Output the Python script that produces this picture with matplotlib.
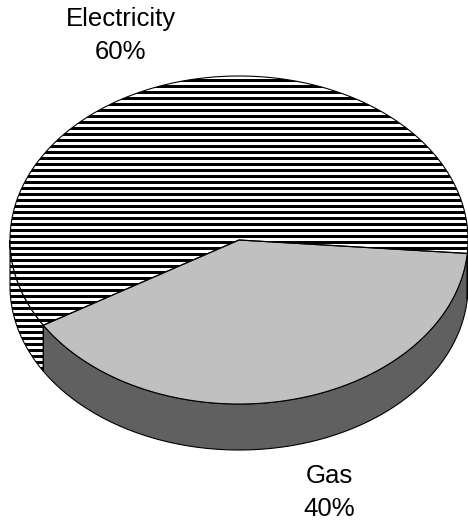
import numpy as np
import matplotlib
matplotlib.use("Agg")
import matplotlib.pyplot as plt
from matplotlib.patches import Polygon

# energy split
labels = ["Gas", "Electricity"]
values = [40, 60]

plt.rcParams['font.family'] = ['Liberation Sans', 'DejaVu Sans']

W, H = 468, 521
fig = plt.figure(figsize=(W / 100, H / 100), dpi=100)
ax = fig.add_axes([0, 0, 1, 1])
ax.set_xlim(0, W)
ax.set_ylim(H, 0)
ax.axis('off')

# pie geometry in pixel units (y grows downward)
cx, cy = 239, 240
rx, ry = 229, 164
depth = 46
start = 4.7  # degrees, clockwise from the right

top_colors = {"Gas": "#c0c0c0", "Electricity": "white"}
side_colors = {"Gas": "#606060", "Electricity": "white"}
striped = {"Gas": False, "Electricity": True}


def arc(a0, a1, dy=0.0, n=200):
    t = np.radians(np.linspace(a0, a1, n))
    return np.column_stack([cx + rx * np.cos(t), cy + ry * np.sin(t) + dy])


def stripes(patch):
    ys = np.arange(1.5, H, 6.0)
    ax.hlines(ys, 0, W, colors='black', linewidth=3 * 0.72,
              clip_path=patch, zorder=patch.get_zorder() + 0.1)


total = sum(values)
spans = []
a = start
for lab, v in zip(labels, values):
    sweep = 360.0 * v / total
    spans.append((lab, a, a + sweep))
    a += sweep

# side walls: only the front half (0..180 deg) is visible
for lab, a0, a1 in spans:
    for lo, hi in [(a0, a1), (a0 - 360, a1 - 360)]:
        s0, s1 = max(lo, 0), min(hi, 180)
        if s1 <= s0:
            continue
        pts = np.vstack([arc(s0, s1), arc(s0, s1, depth)[::-1]])
        p = Polygon(pts, closed=True, facecolor=side_colors[lab],
                    edgecolor='none', zorder=1)
        ax.add_patch(p)
        if striped[lab]:
            stripes(p)
        ax.add_patch(Polygon(pts, closed=True, facecolor='none',
                             edgecolor='black', linewidth=0.8, zorder=2))

# top faces
for lab, a0, a1 in spans:
    pts = np.vstack([[cx, cy], arc(a0, a1)])
    p = Polygon(pts, closed=True, facecolor=top_colors[lab],
                edgecolor='none', zorder=3)
    ax.add_patch(p)
    if striped[lab]:
        stripes(p)
    ax.add_patch(Polygon(pts, closed=True, facecolor='none',
                         edgecolor='black', linewidth=0.8, zorder=4))

# category labels with percentages (name baseline, percent one line below)
label_pos = {"Electricity": (121, 26), "Gas": (329, 483)}
line_gap = 33
for lab, v in zip(labels, values):
    x, y = label_pos[lab]
    ax.text(x, y, lab, ha='center', va='baseline', fontsize=18.5,
            color='black', zorder=5)
    ax.text(x, y + line_gap, f"{v / total:.0%}", ha='center', va='baseline',
            fontsize=18.5, color='black', zorder=5)

fig.savefig("out.png", dpi=100)
